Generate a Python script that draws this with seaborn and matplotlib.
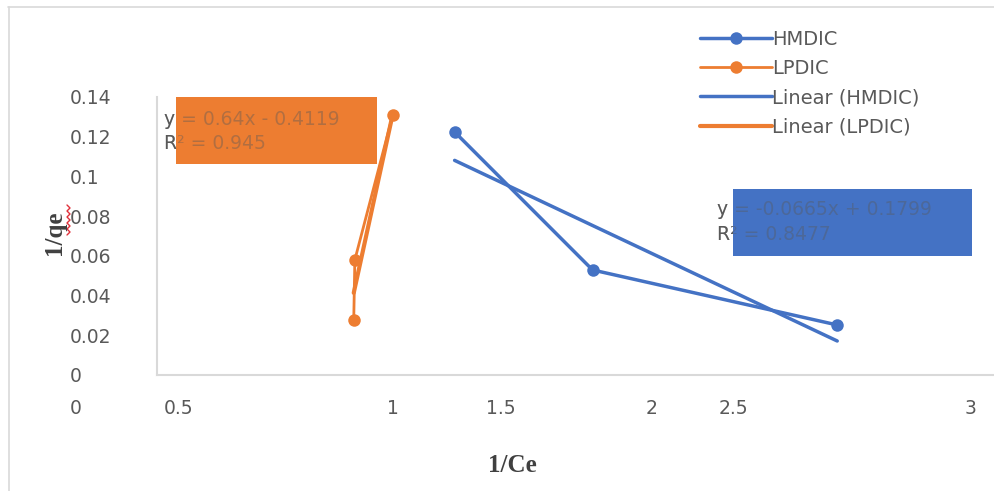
import numpy as np
import matplotlib
matplotlib.use("Agg")
import matplotlib.pyplot as plt
import seaborn as sns
from matplotlib.patches import Rectangle
from matplotlib.lines import Line2D

# ---------------- data ----------------
hmdic_x = [1.068, 1.563, 2.441]
hmdic_y = [0.1224, 0.0529, 0.0252]
lpdic_x = [0.706, 0.710, 0.846]
lpdic_y = [0.0277, 0.0580, 0.1310]
series_names = ["HMDIC", "LPDIC"]
trend_names = ["Linear (HMDIC)", "Linear (LPDIC)"]
hmdic_eq = "y = -0.0665x + 0.1799\nR² = 0.8477"
lpdic_eq = "y = 0.64x - 0.4119\nR² = 0.945"
xtick_labels = ["0", "0.5", "1", "1.5", "2", "2.5", "3"]
ytick_values = [0, 0.02, 0.04, 0.06, 0.08, 0.10, 0.12, 0.14]
x_label = "1/Ce"
y_label = "1/qe"

# ---------------- layout / style ----------------
W, H = 995, 491
xtick_pos = [-0.29, 0.079, 0.846, 1.233, 1.774, 2.068, 2.918]  # where labels sit
BLUE = "#4472C4"
ORANGE = "#ED7D31"
GRAY = "#595959"
DARK = "#404040"
GRID = "#d9d9d9"

sns.set_style("white")
plt.rcParams["font.family"] = ["DejaVu Sans"]

fig = plt.figure(figsize=(W / 100, H / 100), dpi=100)
ax = fig.add_axes([157 / W, (H - 375) / H, (993 - 157) / W, (375 - 97) / H])

sns.lineplot(x=hmdic_x, y=hmdic_y, ax=ax, color=BLUE, marker="o", markersize=9,
             markeredgewidth=0, linewidth=2.5, label=series_names[0], sort=False)
sns.lineplot(x=lpdic_x, y=lpdic_y, ax=ax, color=ORANGE, marker="o", markersize=9,
             markeredgewidth=0, linewidth=2.0, label=series_names[1], sort=False)
sns.regplot(x=np.array(hmdic_x), y=np.array(hmdic_y), ax=ax, scatter=False, ci=None,
            truncate=True, color=BLUE, label=trend_names[0], line_kws=dict(lw=2.5))
sns.regplot(x=np.array(lpdic_x), y=np.array(lpdic_y), ax=ax, scatter=False, ci=None,
            truncate=True, color=ORANGE, label=trend_names[1], line_kws=dict(lw=3.0))

ax.set_xlim(0, 3)
ax.set_ylim(0, 0.14)
ax.set_xlabel("")
ax.set_ylabel("")
ax.set_yticks(ytick_values, [f"{v:g}" for v in ytick_values])
ax.set_xticks(xtick_pos[1:], xtick_labels[1:])
ax.tick_params(axis="both", length=0, labelsize=13.5, labelcolor=GRAY)
ax.tick_params(axis="y", pad=(157 - 70) * 0.72)
ax.tick_params(axis="x", pad=17)
for lbl in ax.get_yticklabels():
    lbl.set_horizontalalignment("left")
ax.annotate(xtick_labels[0], xy=(xtick_pos[0], 0), xycoords=("data", "axes fraction"),
            xytext=(0, -17), textcoords="offset points", ha="center", va="top",
            fontsize=13.5, color=GRAY, annotation_clip=False)

for s in ["top", "right"]:
    ax.spines[s].set_visible(False)
for s in ["left", "bottom"]:
    ax.spines[s].set_color(GRID)
    ax.spines[s].set_linewidth(1.5)

handles, labels = ax.get_legend_handles_labels()
ax.legend(handles, labels, loc="upper left", bbox_to_anchor=(700 / W, 1 - 30 / H),
          bbox_transform=fig.transFigure, frameon=False, borderpad=0, borderaxespad=0,
          handlelength=3.7, handletextpad=0.0, labelspacing=0.52, fontsize=14,
          labelcolor=GRAY)

# axis titles
fig.text(512 / W, 1 - 465 / H, x_label, ha="center", va="center", fontsize=18,
         fontweight="bold", family="Liberation Serif", color=DARK)
fig.text(55 / W, 1 - 233 / H, y_label, ha="center", va="center", fontsize=18,
         fontweight="bold", family="Liberation Serif", color=DARK, rotation=90)
ys = np.arange(205, 236, 3)
xs = np.where(np.arange(len(ys)) % 2 == 0, 67, 70)
fig.add_artist(Line2D(xs / W, 1 - ys / H, transform=fig.transFigure, color="#e0303a", lw=1))

# trendline equation boxes
def eq_box(text, tx, ty, bx0, by0, bx1, by1, fc):
    fig.text(tx / W, 1 - ty / H, text, ha="left", va="center", fontsize=13.5,
             color=GRAY, linespacing=1.35, zorder=5)
    fig.add_artist(Rectangle((bx0 / W, 1 - by1 / H), (bx1 - bx0) / W, (by1 - by0) / H,
                             transform=fig.transFigure, facecolor=fc, edgecolor="none",
                             zorder=6))
    fig.text(tx / W, 1 - ty / H, text, ha="left", va="center", fontsize=13.5,
             color=GRAY, linespacing=1.35, zorder=7, alpha=0.4)

eq_box(lpdic_eq, 164, 131.5, 176, 97, 377, 164, ORANGE)
eq_box(hmdic_eq, 717, 222, 733, 189, 972, 256, BLUE)

# outer chart border
fig.add_artist(Line2D([8 / W, 1], [1 - 7 / H, 1 - 7 / H], transform=fig.transFigure,
                      color=GRID, lw=1.2))
fig.add_artist(Line2D([9 / W, 9 / W], [0, 1 - 7 / H], transform=fig.transFigure,
                      color=GRID, lw=1.2))

fig.savefig("out.png", dpi=100, facecolor="white")
